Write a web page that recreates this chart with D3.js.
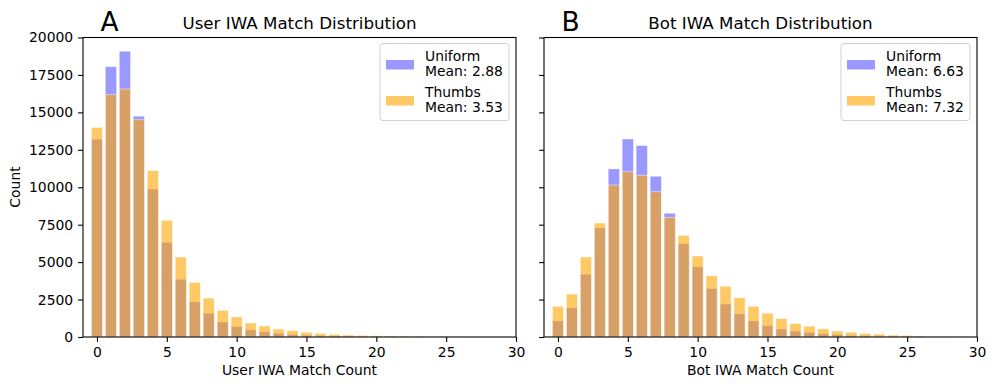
<!DOCTYPE html>
<html>
<head>
<meta charset="utf-8">
<script src="https://cdn.jsdelivr.net/npm/d3@7"></script>
<style>
  body { margin: 0; background: #fff; }
  text { font-family: "DejaVu Sans", sans-serif; fill: #000; }
</style>
</head>
<body>
<script>
// counts per match value (0..29)
let matchCounts = d3.range(0, 30);
let userUniform = [13200, 18050, 19080, 14740, 9880, 6320, 3850, 2340, 1580, 1000, 690, 470, 335, 245, 155, 110, 75, 55, 35, 25, 18, 12, 8, 5, 3, 2, 0, 0, 0, 0];
let userThumbs = [14000, 16180, 16560, 14510, 11110, 7790, 5340, 3650, 2600, 1780, 1340, 935, 735, 534, 430, 320, 240, 180, 130, 110, 85, 70, 55, 45, 35, 20, 12, 8, 5, 3];
let botUniform = [1070, 1940, 4190, 7280, 11220, 13220, 12780, 10730, 8260, 6230, 4680, 3230, 2200, 1540, 1070, 755, 535, 390, 310, 210, 155, 105, 75, 55, 35, 25, 15, 10, 6, 3];
let botThumbs = [2050, 2870, 5340, 7610, 10150, 11040, 10800, 9700, 7990, 6790, 5410, 4090, 3390, 2620, 2050, 1590, 1230, 905, 725, 545, 400, 320, 240, 195, 125, 100, 65, 42, 22, 12];
let yTicks = [0, 2500, 5000, 7500, 10000, 12500, 15000, 17500, 20000];
let xTicks = [0, 5, 10, 15, 20, 25, 30];

let svg = d3.select("body").append("svg")
  .attr("width", 996)
  .attr("height", 390);

let plotTop = 37.5, plotBottom = 337;

// y scale shared by both panels
let y = d3.scaleLinear().domain([0, 20000]).range([plotBottom, plotTop]);

function drawPanel(left, right, letter, title, xLabel, uniform, thumbs, uniMean, thumbMean, showYLabels) {
  let x = d3.scaleLinear().domain([-1, 30]).range([left, right]);
  let g = svg.append("g");
  let bw = x(0.4) - x(-0.4);

  // uniform bars first, then thumbs on top
  g.selectAll(".uni").data(uniform).enter().append("rect")
    .attr("x", (d, i) => x(matchCounts[i]) - bw / 2)
    .attr("y", d => y(d))
    .attr("width", bw)
    .attr("height", d => plotBottom - y(d))
    .attr("fill", "blue").attr("fill-opacity", 0.4)
    .attr("stroke", "white").attr("stroke-opacity", 0.4).attr("stroke-width", 0.8);

  g.selectAll(".thumb").data(thumbs).enter().append("rect")
    .attr("x", (d, i) => x(matchCounts[i]) - bw / 2)
    .attr("y", d => y(d))
    .attr("width", bw)
    .attr("height", d => plotBottom - y(d))
    .attr("fill", "orange").attr("fill-opacity", 0.6)
    .attr("stroke", "white").attr("stroke-opacity", 0.6).attr("stroke-width", 0.8);

  // axes
  let xAxis = g.append("g")
    .attr("transform", `translate(0, ${plotBottom})`)
    .call(d3.axisBottom(x).tickValues(xTicks).tickSize(4.9).tickPadding(4.9));
  let yAxis = g.append("g")
    .attr("transform", `translate(${left}, 0)`)
    .call(d3.axisLeft(y).tickValues(yTicks).tickSize(4.9).tickPadding(4.9)
      .tickFormat(showYLabels ? d3.format("d") : ""));
  [xAxis, yAxis].forEach(a => {
    a.select(".domain").remove();
    a.selectAll("line").attr("stroke", "#000").attr("stroke-width", 1.1);
    a.selectAll("text").style("font-size", "13.9px").style("font-family", "DejaVu Sans");
  });

  // frame
  g.append("rect")
    .attr("x", left).attr("y", plotTop)
    .attr("width", right - left).attr("height", plotBottom - plotTop)
    .attr("fill", "none").attr("stroke", "#000").attr("stroke-width", 1.1);

  // titles
  g.append("text")
    .attr("x", (left + right) / 2).attr("y", 29)
    .attr("text-anchor", "middle")
    .style("font-size", "16.7px")
    .text(title);
  g.append("text")
    .attr("x", left + 17.5).attr("y", 31)
    .style("font-size", "26.5px")
    .text(letter);
  g.append("text")
    .attr("x", (left + right) / 2).attr("y", 375)
    .attr("text-anchor", "middle")
    .style("font-size", "13.9px")
    .text(xLabel);

  // legend
  let lg = g.append("g").attr("transform", `translate(${right - 136}, 43.5)`);
  lg.append("rect")
    .attr("width", 129).attr("height", 77).attr("rx", 3)
    .attr("fill", "white").attr("fill-opacity", 0.8)
    .attr("stroke", "#d0d0d0").attr("stroke-width", 1);
  let items = [
    { lines: ["Uniform", `Mean: ${uniMean}`], color: "blue", op: 0.4 },
    { lines: ["Thumbs", `Mean: ${thumbMean}`], color: "orange", op: 0.6 }
  ];
  items.forEach((it, i) => {
    let row = lg.append("g").attr("transform", `translate(0, ${i * 36})`);
    row.append("rect")
      .attr("x", 6).attr("y", 16.5).attr("width", 28).attr("height", 9.5)
      .attr("fill", it.color).attr("fill-opacity", it.op);
    it.lines.forEach((t, j) => {
      row.append("text")
        .attr("x", 45).attr("y", 17.5 + j * 15)
        .style("font-size", "13.9px")
        .text(t);
    });
  });
}

drawPanel(83, 516, "A", "User IWA Match Distribution", "User IWA Match Count",
  userUniform, userThumbs, "2.88", "3.53", true);
drawPanel(544, 977, "B", "Bot IWA Match Distribution", "Bot IWA Match Count",
  botUniform, botThumbs, "6.63", "7.32", false);

svg.append("text")
  .attr("transform", "translate(20, 187) rotate(-90)")
  .attr("text-anchor", "middle")
  .style("font-size", "13.9px")
  .text("Count");
</script>
</body>
</html>
